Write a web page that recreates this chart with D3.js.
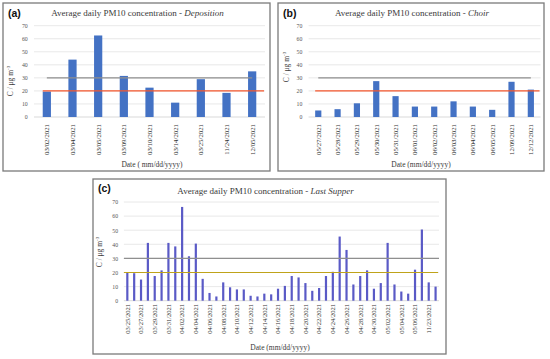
<!DOCTYPE html>
<html>
<head>
<meta charset="utf-8">
<script src="https://cdn.jsdelivr.net/npm/d3@7"></script>
<style>
  body { margin: 0; background: #fff; }
  svg { display: block; }
  text { font-family: "Liberation Serif", serif; }
</style>
</head>
<body>
<svg width="550" height="359"></svg>
<script>
// data
var depDates = ['03/02/2021', '03/04/2021', '03/05/2021', '03/09/2021', '03/10/2021', '03/14/2021', '03/25/2021', '11/24/2021', '12/05/2021'];
var depValues = [19.5, 44, 62.5, 31.5, 22.5, 11, 29, 18.5, 35];

var choirDates = ['05/27/2021', '05/28/2021', '05/29/2021', '05/30/2021', '05/31/2021', '06/01/2021', '06/02/2021', '06/03/2021', '06/04/2021', '06/05/2021', '12/09/2021', '12/12/2021'];
var choirValues = [5, 6, 10.5, 27.5, 16, 8, 8, 12, 8, 5.5, 27, 21];

var supperDates = ['03/25/2021', '03/26/2021', '03/27/2021', '03/28/2021', '03/29/2021', '03/30/2021', '03/31/2021',
  '04/01/2021', '04/02/2021', '04/03/2021', '04/04/2021', '04/05/2021', '04/06/2021', '04/07/2021', '04/08/2021', '04/09/2021',
  '04/10/2021', '04/11/2021', '04/12/2021', '04/13/2021', '04/14/2021', '04/15/2021', '04/16/2021', '04/17/2021', '04/18/2021',
  '04/19/2021', '04/20/2021', '04/21/2021', '04/22/2021', '04/23/2021', '04/24/2021', '04/25/2021', '04/26/2021', '04/27/2021',
  '04/28/2021', '04/29/2021', '04/30/2021', '05/01/2021', '05/02/2021', '05/03/2021', '05/04/2021', '05/05/2021', '05/06/2021',
  '11/22/2021', '11/23/2021', '11/24/2021'];
var supperValues = [20, 19.5, 15, 41, 17.5, 21.5, 41, 38.5, 66.5, 31.5, 40.5, 15.5, 5.5, 3, 13, 9.5, 8, 8, 3.5, 3, 5, 4.5, 8.5,
  10.5, 17.5, 16.5, 12.5, 7, 9, 17.5, 20.5, 45.5, 36, 11.5, 17.5, 21.5, 8.5, 12.5, 41, 11.5, 6.5, 5, 22, 50.5, 13, 10];

var yTicks = [0, 10, 20, 30, 40, 50, 60, 70];
var grayLimit = 30;
var orangeLimit = 20;

var svg = d3.select('svg');

function drawPanel(p){
  var g = svg.append('g');

  g.append('rect')
    .attr('x', p.box[0]).attr('y', p.box[1])
    .attr('width', p.box[2]).attr('height', p.box[3])
    .attr('fill', '#fff')
    .attr('stroke', '#7a7a7a')
    .attr('stroke-width', 1.3);

  var x = d3.scaleBand().domain(p.dates).range([p.x0, p.x1]).paddingInner(0.68).paddingOuter(0.34);
  var y = d3.scaleLinear().domain([0, 70]).range([p.y0, p.y1]);

  // grid
  g.selectAll('.grid').data(yTicks).enter().append('line')
    .attr('x1', p.x0).attr('x2', p.x1)
    .attr('y1', function(d){ return y(d); })
    .attr('y2', function(d){ return y(d); })
    .attr('stroke', function(d){ return d === 0 ? '#cfcfcf' : '#e2e2e2'; })
    .attr('stroke-width', 0.8);

  // y labels
  var yAxis = d3.axisLeft(y).tickValues(yTicks).tickSize(0).tickPadding(p.yPad);
  var ya = g.append('g').attr('transform', 'translate(' + p.x0 + ',0)').call(yAxis);
  ya.select('.domain').remove();
  ya.selectAll('text').attr('font-size', p.yFont).attr('fill', '#555')
    .style('font-family', '"Liberation Serif", serif');

  // bars
  g.selectAll('.bar').data(p.values).enter().append('rect')
    .attr('x', function(d, i){ return x(p.dates[i]); })
    .attr('y', function(d){ return y(d); })
    .attr('width', x.bandwidth())
    .attr('height', function(d){ return y(0) - y(d); })
    .attr('fill', p.barColor);

  // limit lines
  var first = p.dates[0], last = p.dates[p.dates.length - 1];
  g.append('line')
    .attr('x1', p.grayFull ? p.x0 : x(first) + x.bandwidth() / 2)
    .attr('x2', p.grayFull ? p.x1 : x(last) + x.bandwidth() / 2)
    .attr('y1', y(grayLimit)).attr('y2', y(grayLimit))
    .attr('stroke', '#8f8f8f').attr('stroke-width', p.lineW);
  g.append('line')
    .attr('x1', p.grayFull ? p.x0 : x(first))
    .attr('x2', p.x1 - 1)
    .attr('y1', y(orangeLimit)).attr('y2', y(orangeLimit))
    .attr('stroke', p.limitColor).attr('stroke-width', p.lineW);

  // x labels
  var xAxis = d3.axisBottom(x).tickSize(0).tickPadding(0)
    .tickValues(p.dates.filter(function(d, i){ return i % p.every === 0; }));
  var xa = g.append('g').attr('transform', 'translate(0,' + p.labelTop + ')').call(xAxis);
  xa.select('.domain').remove();
  xa.selectAll('text')
    .attr('font-size', p.xFont).attr('fill', '#333')
    .style('font-family', '"Liberation Serif", serif')
    .attr('text-anchor', 'end')
    .attr('dy', null).attr('y', 0)
    .attr('transform', 'translate(' + (p.xFont * 0.35) + ',0) rotate(-90)');

  // titles
  var t = g.append('text')
    .attr('x', p.titleX).attr('y', p.titleY)
    .attr('text-anchor', 'middle')
    .attr('font-size', 9).attr('fill', '#3a3a3a');
  t.append('tspan').text('Average daily PM10 concentration - ');
  t.append('tspan').attr('font-style', 'italic').text(p.site);

  g.append('text')
    .attr('x', p.xTitle[0]).attr('y', p.xTitle[1])
    .attr('text-anchor', 'middle')
    .attr('font-size', 7.5).attr('fill', '#3a3a3a')
    .text(p.xTitleText);

  var yt = g.append('text')
    .attr('transform', 'translate(' + p.yTitle[0] + ',' + p.yTitle[1] + ') rotate(-90)')
    .attr('text-anchor', 'middle')
    .attr('font-size', 7.5).attr('fill', '#3a3a3a');
  yt.append('tspan').text('C / \u03bcg m');
  yt.append('tspan').attr('font-size', 5).attr('dy', -3).text('-3');

  g.append('text')
    .attr('x', p.letter[0]).attr('y', p.letter[1])
    .attr('font-size', 10.5).attr('font-weight', 'bold')
    .style('font-family', '"Liberation Sans", Arial, sans-serif')
    .attr('fill', '#111')
    .text(p.letterText);
}

drawPanel({
  box: [3, 3, 267, 168], x0: 34, x1: 265, y0: 117, y1: 25.7,
  dates: depDates, values: depValues, every: 1,
  barColor: '#4472c4', limitColor: '#f4562c', lineW: 1.4, grayFull: false,
  yFont: 5.8, yPad: 6.3, xFont: 6.8, labelTop: 124,
  site: 'Deposition', titleX: 137.5, titleY: 16,
  xTitleText: 'Date ( mm/dd/yyyy)', xTitle: [152, 167],
  yTitle: [12.5, 81], letter: [8, 16.5], letterText: '(a)'
});

drawPanel({
  box: [278, 3, 266, 168], x0: 308.6, x1: 540.5, y0: 117, y1: 25.7,
  dates: choirDates, values: choirValues, every: 1,
  barColor: '#4472c4', limitColor: '#f4562c', lineW: 1.4, grayFull: false,
  yFont: 5.8, yPad: 6.3, xFont: 6.8, labelTop: 124,
  site: 'Choir', titleX: 412, titleY: 16,
  xTitleText: 'Date (mm/dd/yyyy)', xTitle: [421, 167],
  yTitle: [289, 67], letter: [283, 16.5], letterText: '(b)'
});

drawPanel({
  box: [93, 179, 353, 175], x0: 123.9, x1: 439, y0: 300.7, y1: 202,
  dates: supperDates, values: supperValues, every: 2,
  barColor: '#5a5ac6', limitColor: '#bfa31a', lineW: 1.2, grayFull: true,
  yFont: 5.8, yPad: 5.8, xFont: 6.5, labelTop: 304,
  site: 'Last Supper', titleX: 265.5, titleY: 194,
  xTitleText: 'Date (mm/dd/yyyy)', xTitle: [280, 350],
  yTitle: [102, 252], letter: [98, 192], letterText: '(c)'
});
</script>
</body>
</html>
